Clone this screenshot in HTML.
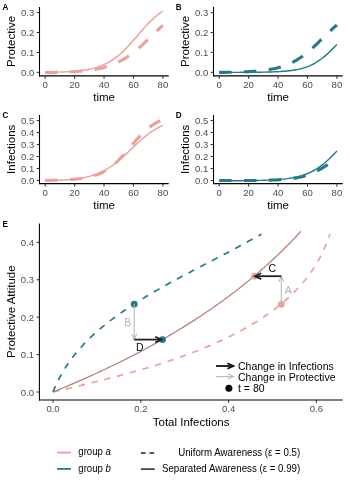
<!DOCTYPE html>
<html><head><meta charset="utf-8"><style>
html,body{margin:0;padding:0;background:#fff;width:350px;height:485px;overflow:hidden;}
svg{will-change:transform;}
body{position:relative;font-family:"Liberation Sans",sans-serif;}
</style></head><body>
<svg width="350" height="485" viewBox="0 0 350 485" style="position:absolute;left:0;top:0;font-family:&quot;Liberation Sans&quot;,sans-serif">
<rect width="350" height="485" fill="#fff"/>
<line x1="39.50" y1="7.00" x2="39.50" y2="76.40" stroke="#000" stroke-width="1.07" />
<line x1="39.00" y1="75.90" x2="168.70" y2="75.90" stroke="#000" stroke-width="1.07" />
<line x1="36.70" y1="72.30" x2="39.50" y2="72.30" stroke="#333333" stroke-width="1.07" />
<text transform="translate(34.20,75.90) scale(0.985,1)" font-size="9.7" fill="#4D4D4D" text-anchor="end" font-weight="normal" >0.0</text>
<line x1="36.70" y1="52.40" x2="39.50" y2="52.40" stroke="#333333" stroke-width="1.07" />
<text transform="translate(34.20,56.00) scale(0.985,1)" font-size="9.7" fill="#4D4D4D" text-anchor="end" font-weight="normal" >0.1</text>
<line x1="36.70" y1="32.50" x2="39.50" y2="32.50" stroke="#333333" stroke-width="1.07" />
<text transform="translate(34.20,36.10) scale(0.985,1)" font-size="9.7" fill="#4D4D4D" text-anchor="end" font-weight="normal" >0.2</text>
<line x1="36.70" y1="12.60" x2="39.50" y2="12.60" stroke="#333333" stroke-width="1.07" />
<text transform="translate(34.20,16.20) scale(0.985,1)" font-size="9.7" fill="#4D4D4D" text-anchor="end" font-weight="normal" >0.3</text>
<line x1="45.20" y1="75.90" x2="45.20" y2="78.70" stroke="#333333" stroke-width="1.07" />
<text transform="translate(45.20,87.80) scale(0.985,1)" font-size="9.7" fill="#4D4D4D" text-anchor="middle" font-weight="normal" >0</text>
<line x1="74.62" y1="75.90" x2="74.62" y2="78.70" stroke="#333333" stroke-width="1.07" />
<text transform="translate(74.62,87.80) scale(0.985,1)" font-size="9.7" fill="#4D4D4D" text-anchor="middle" font-weight="normal" >20</text>
<line x1="104.04" y1="75.90" x2="104.04" y2="78.70" stroke="#333333" stroke-width="1.07" />
<text transform="translate(104.04,87.80) scale(0.985,1)" font-size="9.7" fill="#4D4D4D" text-anchor="middle" font-weight="normal" >40</text>
<line x1="133.46" y1="75.90" x2="133.46" y2="78.70" stroke="#333333" stroke-width="1.07" />
<text transform="translate(133.46,87.80) scale(0.985,1)" font-size="9.7" fill="#4D4D4D" text-anchor="middle" font-weight="normal" >60</text>
<line x1="162.88" y1="75.90" x2="162.88" y2="78.70" stroke="#333333" stroke-width="1.07" />
<text transform="translate(162.88,87.80) scale(0.985,1)" font-size="9.7" fill="#4D4D4D" text-anchor="middle" font-weight="normal" >80</text>
<text x="0.00" y="0.00" font-size="11.5" fill="#000" text-anchor="middle" font-weight="normal" transform="translate(15.2,41.45) rotate(-90)">Protective</text>
<text x="104.10" y="101.20" font-size="11.5" fill="#000" text-anchor="middle" font-weight="normal" >time</text>
<text transform="translate(2.40,9.50) scale(0.87,1)" font-size="9.3" fill="#000" text-anchor="start" font-weight="bold" >A</text>
<path d="M45.2,72.45 L47.2,72.42 L49.2,72.39 L51.2,72.35 L53.2,72.31 L55.2,72.26 L57.2,72.20 L59.2,72.14 L61.2,72.07 L63.2,71.99 L65.1,71.90 L67.1,71.80 L69.1,71.68 L71.1,71.55 L73.1,71.40 L75.1,71.23 L77.1,71.04 L79.1,70.83 L81.1,70.59 L83.1,70.32 L85.1,70.02 L87.1,69.68 L89.1,69.29 L91.1,68.87 L93.1,68.39 L95.1,67.85 L97.1,67.25 L99.1,66.59 L101.1,65.85 L103.1,65.03 L105.0,64.12 L107.0,63.13 L109.0,62.04 L111.0,60.84 L113.0,59.54 L115.0,58.13 L117.0,56.61 L119.0,54.98 L121.0,53.24 L123.0,51.39 L125.0,49.44 L127.0,47.39 L129.0,45.27 L131.0,43.07 L133.0,40.82 L135.0,38.53 L137.0,36.22 L139.0,33.90 L141.0,31.60 L143.0,29.33 L144.9,27.11 L146.9,24.95 L148.9,22.87 L150.9,20.88 L152.9,18.99 L154.9,17.20 L156.9,15.52 L158.9,13.95 L160.9,12.49 L162.9,11.15" fill="none" stroke="#EBA09A" stroke-width="1.45"  transform="translate(0,0)"/>
<path d="M45.2,72.56 L47.2,72.53 L49.2,72.50 L51.2,72.47 L53.2,72.43 L55.2,72.39 L57.2,72.34 L59.2,72.28 L61.2,72.23 L63.2,72.16 L65.1,72.09 L67.1,72.01 L69.1,71.92 L71.1,71.82 L73.1,71.71 L75.1,71.59 L77.1,71.45 L79.1,71.30 L81.1,71.13 L83.1,70.95 L85.1,70.74 L87.1,70.52 L89.1,70.27 L91.1,69.99 L93.1,69.69 L95.1,69.35 L97.1,68.98 L99.1,68.58 L101.1,68.13 L103.1,67.64 L105.0,67.10 L107.0,66.52 L109.0,65.87 L111.0,65.17 L113.0,64.41 L115.0,63.59 L117.0,62.69 L119.0,61.72 L121.0,60.68 L123.0,59.56 L125.0,58.37 L127.0,57.09 L129.0,55.74 L131.0,54.31 L133.0,52.80 L135.0,51.21 L137.0,49.56 L139.0,47.85 L141.0,46.07 L143.0,44.25 L144.9,42.38 L146.9,40.49 L148.9,38.57 L150.9,36.64 L152.9,34.71 L154.9,32.79 L156.9,30.90 L158.9,29.04 L160.9,27.22 L162.9,25.45" fill="none" stroke="#EBA09A" stroke-width="3.1" stroke-dasharray="12.4 12.4" transform="translate(0,0)"/>
<line x1="213.50" y1="7.00" x2="213.50" y2="76.40" stroke="#000" stroke-width="1.07" />
<line x1="213.00" y1="75.90" x2="342.70" y2="75.90" stroke="#000" stroke-width="1.07" />
<line x1="210.70" y1="72.30" x2="213.50" y2="72.30" stroke="#333333" stroke-width="1.07" />
<text transform="translate(208.20,75.90) scale(0.985,1)" font-size="9.7" fill="#4D4D4D" text-anchor="end" font-weight="normal" >0.0</text>
<line x1="210.70" y1="52.40" x2="213.50" y2="52.40" stroke="#333333" stroke-width="1.07" />
<text transform="translate(208.20,56.00) scale(0.985,1)" font-size="9.7" fill="#4D4D4D" text-anchor="end" font-weight="normal" >0.1</text>
<line x1="210.70" y1="32.50" x2="213.50" y2="32.50" stroke="#333333" stroke-width="1.07" />
<text transform="translate(208.20,36.10) scale(0.985,1)" font-size="9.7" fill="#4D4D4D" text-anchor="end" font-weight="normal" >0.2</text>
<line x1="210.70" y1="12.60" x2="213.50" y2="12.60" stroke="#333333" stroke-width="1.07" />
<text transform="translate(208.20,16.20) scale(0.985,1)" font-size="9.7" fill="#4D4D4D" text-anchor="end" font-weight="normal" >0.3</text>
<line x1="219.20" y1="75.90" x2="219.20" y2="78.70" stroke="#333333" stroke-width="1.07" />
<text transform="translate(219.20,87.80) scale(0.985,1)" font-size="9.7" fill="#4D4D4D" text-anchor="middle" font-weight="normal" >0</text>
<line x1="248.62" y1="75.90" x2="248.62" y2="78.70" stroke="#333333" stroke-width="1.07" />
<text transform="translate(248.62,87.80) scale(0.985,1)" font-size="9.7" fill="#4D4D4D" text-anchor="middle" font-weight="normal" >20</text>
<line x1="278.04" y1="75.90" x2="278.04" y2="78.70" stroke="#333333" stroke-width="1.07" />
<text transform="translate(278.04,87.80) scale(0.985,1)" font-size="9.7" fill="#4D4D4D" text-anchor="middle" font-weight="normal" >40</text>
<line x1="307.46" y1="75.90" x2="307.46" y2="78.70" stroke="#333333" stroke-width="1.07" />
<text transform="translate(307.46,87.80) scale(0.985,1)" font-size="9.7" fill="#4D4D4D" text-anchor="middle" font-weight="normal" >60</text>
<line x1="336.88" y1="75.90" x2="336.88" y2="78.70" stroke="#333333" stroke-width="1.07" />
<text transform="translate(336.88,87.80) scale(0.985,1)" font-size="9.7" fill="#4D4D4D" text-anchor="middle" font-weight="normal" >80</text>
<text x="0.00" y="0.00" font-size="11.5" fill="#000" text-anchor="middle" font-weight="normal" transform="translate(189.2,41.45) rotate(-90)">Protective</text>
<text x="278.10" y="101.20" font-size="11.5" fill="#000" text-anchor="middle" font-weight="normal" >time</text>
<text transform="translate(175.80,9.50) scale(0.87,1)" font-size="9.3" fill="#000" text-anchor="start" font-weight="bold" >B</text>
<path d="M45.2,72.38 L47.2,72.38 L49.2,72.38 L51.2,72.37 L53.2,72.37 L55.2,72.37 L57.2,72.37 L59.2,72.36 L61.2,72.36 L63.2,72.35 L65.1,72.35 L67.1,72.34 L69.1,72.33 L71.1,72.32 L73.1,72.31 L75.1,72.30 L77.1,72.29 L79.1,72.27 L81.1,72.25 L83.1,72.23 L85.1,72.20 L87.1,72.18 L89.1,72.14 L91.1,72.10 L93.1,72.06 L95.1,72.01 L97.1,71.95 L99.1,71.88 L101.1,71.80 L103.1,71.71 L105.0,71.60 L107.0,71.48 L109.0,71.34 L111.0,71.18 L113.0,70.99 L115.0,70.78 L117.0,70.54 L119.0,70.26 L121.0,69.93 L123.0,69.57 L125.0,69.15 L127.0,68.68 L129.0,68.14 L131.0,67.53 L133.0,66.84 L135.0,66.06 L137.0,65.19 L139.0,64.23 L141.0,63.16 L143.0,61.97 L144.9,60.68 L146.9,59.26 L148.9,57.74 L150.9,56.10 L152.9,54.36 L154.9,52.52 L156.9,50.61 L158.9,48.63 L160.9,46.60 L162.9,44.55" fill="none" stroke="#29788A" stroke-width="1.45"  transform="translate(174,0)"/>
<path d="M45.2,72.40 L47.2,72.38 L49.2,72.36 L51.2,72.33 L53.2,72.30 L55.2,72.27 L57.2,72.23 L59.2,72.19 L61.2,72.14 L63.2,72.09 L65.1,72.03 L67.1,71.96 L69.1,71.89 L71.1,71.80 L73.1,71.71 L75.1,71.60 L77.1,71.48 L79.1,71.35 L81.1,71.21 L83.1,71.04 L85.1,70.86 L87.1,70.66 L89.1,70.43 L91.1,70.17 L93.1,69.89 L95.1,69.58 L97.1,69.23 L99.1,68.85 L101.1,68.42 L103.1,67.94 L105.0,67.42 L107.0,66.84 L109.0,66.21 L111.0,65.51 L113.0,64.75 L115.0,63.92 L117.0,63.01 L119.0,62.02 L121.0,60.95 L123.0,59.80 L125.0,58.56 L127.0,57.23 L129.0,55.82 L131.0,54.32 L133.0,52.75 L135.0,51.09 L137.0,49.36 L139.0,47.57 L141.0,45.72 L143.0,43.82 L144.9,41.89 L146.9,39.94 L148.9,37.98 L150.9,36.02 L152.9,34.08 L154.9,32.17 L156.9,30.30 L158.9,28.47 L160.9,26.71 L162.9,25.02" fill="none" stroke="#29788A" stroke-width="3.1" stroke-dasharray="12.4 12.4" transform="translate(174,0)"/>
<line x1="39.50" y1="115.00" x2="39.50" y2="184.10" stroke="#000" stroke-width="1.07" />
<line x1="39.00" y1="183.60" x2="168.70" y2="183.60" stroke="#000" stroke-width="1.07" />
<line x1="36.70" y1="180.50" x2="39.50" y2="180.50" stroke="#333333" stroke-width="1.07" />
<text transform="translate(34.20,184.10) scale(0.985,1)" font-size="9.7" fill="#4D4D4D" text-anchor="end" font-weight="normal" >0.0</text>
<line x1="36.70" y1="168.50" x2="39.50" y2="168.50" stroke="#333333" stroke-width="1.07" />
<text transform="translate(34.20,172.10) scale(0.985,1)" font-size="9.7" fill="#4D4D4D" text-anchor="end" font-weight="normal" >0.1</text>
<line x1="36.70" y1="156.50" x2="39.50" y2="156.50" stroke="#333333" stroke-width="1.07" />
<text transform="translate(34.20,160.10) scale(0.985,1)" font-size="9.7" fill="#4D4D4D" text-anchor="end" font-weight="normal" >0.2</text>
<line x1="36.70" y1="144.50" x2="39.50" y2="144.50" stroke="#333333" stroke-width="1.07" />
<text transform="translate(34.20,148.10) scale(0.985,1)" font-size="9.7" fill="#4D4D4D" text-anchor="end" font-weight="normal" >0.3</text>
<line x1="36.70" y1="132.50" x2="39.50" y2="132.50" stroke="#333333" stroke-width="1.07" />
<text transform="translate(34.20,136.10) scale(0.985,1)" font-size="9.7" fill="#4D4D4D" text-anchor="end" font-weight="normal" >0.4</text>
<line x1="36.70" y1="120.50" x2="39.50" y2="120.50" stroke="#333333" stroke-width="1.07" />
<text transform="translate(34.20,124.10) scale(0.985,1)" font-size="9.7" fill="#4D4D4D" text-anchor="end" font-weight="normal" >0.5</text>
<line x1="45.20" y1="183.60" x2="45.20" y2="186.40" stroke="#333333" stroke-width="1.07" />
<text transform="translate(45.20,195.50) scale(0.985,1)" font-size="9.7" fill="#4D4D4D" text-anchor="middle" font-weight="normal" >0</text>
<line x1="74.62" y1="183.60" x2="74.62" y2="186.40" stroke="#333333" stroke-width="1.07" />
<text transform="translate(74.62,195.50) scale(0.985,1)" font-size="9.7" fill="#4D4D4D" text-anchor="middle" font-weight="normal" >20</text>
<line x1="104.04" y1="183.60" x2="104.04" y2="186.40" stroke="#333333" stroke-width="1.07" />
<text transform="translate(104.04,195.50) scale(0.985,1)" font-size="9.7" fill="#4D4D4D" text-anchor="middle" font-weight="normal" >40</text>
<line x1="133.46" y1="183.60" x2="133.46" y2="186.40" stroke="#333333" stroke-width="1.07" />
<text transform="translate(133.46,195.50) scale(0.985,1)" font-size="9.7" fill="#4D4D4D" text-anchor="middle" font-weight="normal" >60</text>
<line x1="162.88" y1="183.60" x2="162.88" y2="186.40" stroke="#333333" stroke-width="1.07" />
<text transform="translate(162.88,195.50) scale(0.985,1)" font-size="9.7" fill="#4D4D4D" text-anchor="middle" font-weight="normal" >80</text>
<text x="0.00" y="0.00" font-size="11.5" fill="#000" text-anchor="middle" font-weight="normal" transform="translate(15.2,149.3) rotate(-90)">Infections</text>
<text x="104.10" y="208.90" font-size="11.5" fill="#000" text-anchor="middle" font-weight="normal" >time</text>
<text transform="translate(2.40,118.00) scale(0.87,1)" font-size="9.3" fill="#000" text-anchor="start" font-weight="bold" >C</text>
<path d="M45.2,72.78 L47.2,72.73 L49.2,72.68 L51.2,72.62 L53.2,72.56 L55.2,72.48 L57.2,72.40 L59.2,72.31 L61.2,72.20 L63.2,72.08 L65.1,71.95 L67.1,71.81 L69.1,71.64 L71.1,71.45 L73.1,71.24 L75.1,71.01 L77.1,70.75 L79.1,70.46 L81.1,70.13 L83.1,69.77 L85.1,69.37 L87.1,68.92 L89.1,68.42 L91.1,67.87 L93.1,67.26 L95.1,66.58 L97.1,65.84 L99.1,65.03 L101.1,64.14 L103.1,63.18 L105.0,62.12 L107.0,60.99 L109.0,59.76 L111.0,58.45 L113.0,57.05 L115.0,55.56 L117.0,53.99 L119.0,52.34 L121.0,50.62 L123.0,48.84 L125.0,47.01 L127.0,45.14 L129.0,43.24 L131.0,41.32 L133.0,39.41 L135.0,37.50 L137.0,35.62 L139.0,33.78 L141.0,31.99 L143.0,30.26 L144.9,28.60 L146.9,27.02 L148.9,25.52 L150.9,24.10 L152.9,22.77 L154.9,21.53 L156.9,20.38 L158.9,19.31 L160.9,18.33 L162.9,17.43" fill="none" stroke="#EBA09A" stroke-width="1.45"  transform="translate(0,108)"/>
<path d="M45.2,72.33 L47.2,72.31 L49.2,72.28 L51.2,72.25 L53.2,72.21 L55.2,72.17 L57.2,72.12 L59.2,72.06 L61.2,72.00 L63.2,71.93 L65.1,71.84 L67.1,71.74 L69.1,71.63 L71.1,71.50 L73.1,71.35 L75.1,71.18 L77.1,70.98 L79.1,70.76 L81.1,70.50 L83.1,70.21 L85.1,69.88 L87.1,69.50 L89.1,69.07 L91.1,68.58 L93.1,68.02 L95.1,67.40 L97.1,66.69 L99.1,65.90 L101.1,65.01 L103.1,64.01 L105.0,62.91 L107.0,61.69 L109.0,60.35 L111.0,58.88 L113.0,57.28 L115.0,55.56 L117.0,53.71 L119.0,51.74 L121.0,49.66 L123.0,47.49 L125.0,45.24 L127.0,42.94 L129.0,40.59 L131.0,38.23 L133.0,35.87 L135.0,33.55 L137.0,31.28 L139.0,29.09 L141.0,26.98 L143.0,24.98 L144.9,23.10 L146.9,21.34 L148.9,19.70 L150.9,18.20 L152.9,16.82 L154.9,15.56 L156.9,14.42 L158.9,13.40 L160.9,12.48 L162.9,11.66" fill="none" stroke="#EBA09A" stroke-width="3.1" stroke-dasharray="12.4 12.4" transform="translate(0,108)"/>
<line x1="213.50" y1="115.00" x2="213.50" y2="184.10" stroke="#000" stroke-width="1.07" />
<line x1="213.00" y1="183.60" x2="342.70" y2="183.60" stroke="#000" stroke-width="1.07" />
<line x1="210.70" y1="180.50" x2="213.50" y2="180.50" stroke="#333333" stroke-width="1.07" />
<text transform="translate(208.20,184.10) scale(0.985,1)" font-size="9.7" fill="#4D4D4D" text-anchor="end" font-weight="normal" >0.0</text>
<line x1="210.70" y1="168.50" x2="213.50" y2="168.50" stroke="#333333" stroke-width="1.07" />
<text transform="translate(208.20,172.10) scale(0.985,1)" font-size="9.7" fill="#4D4D4D" text-anchor="end" font-weight="normal" >0.1</text>
<line x1="210.70" y1="156.50" x2="213.50" y2="156.50" stroke="#333333" stroke-width="1.07" />
<text transform="translate(208.20,160.10) scale(0.985,1)" font-size="9.7" fill="#4D4D4D" text-anchor="end" font-weight="normal" >0.2</text>
<line x1="210.70" y1="144.50" x2="213.50" y2="144.50" stroke="#333333" stroke-width="1.07" />
<text transform="translate(208.20,148.10) scale(0.985,1)" font-size="9.7" fill="#4D4D4D" text-anchor="end" font-weight="normal" >0.3</text>
<line x1="210.70" y1="132.50" x2="213.50" y2="132.50" stroke="#333333" stroke-width="1.07" />
<text transform="translate(208.20,136.10) scale(0.985,1)" font-size="9.7" fill="#4D4D4D" text-anchor="end" font-weight="normal" >0.4</text>
<line x1="210.70" y1="120.50" x2="213.50" y2="120.50" stroke="#333333" stroke-width="1.07" />
<text transform="translate(208.20,124.10) scale(0.985,1)" font-size="9.7" fill="#4D4D4D" text-anchor="end" font-weight="normal" >0.5</text>
<line x1="219.20" y1="183.60" x2="219.20" y2="186.40" stroke="#333333" stroke-width="1.07" />
<text transform="translate(219.20,195.50) scale(0.985,1)" font-size="9.7" fill="#4D4D4D" text-anchor="middle" font-weight="normal" >0</text>
<line x1="248.62" y1="183.60" x2="248.62" y2="186.40" stroke="#333333" stroke-width="1.07" />
<text transform="translate(248.62,195.50) scale(0.985,1)" font-size="9.7" fill="#4D4D4D" text-anchor="middle" font-weight="normal" >20</text>
<line x1="278.04" y1="183.60" x2="278.04" y2="186.40" stroke="#333333" stroke-width="1.07" />
<text transform="translate(278.04,195.50) scale(0.985,1)" font-size="9.7" fill="#4D4D4D" text-anchor="middle" font-weight="normal" >40</text>
<line x1="307.46" y1="183.60" x2="307.46" y2="186.40" stroke="#333333" stroke-width="1.07" />
<text transform="translate(307.46,195.50) scale(0.985,1)" font-size="9.7" fill="#4D4D4D" text-anchor="middle" font-weight="normal" >60</text>
<line x1="336.88" y1="183.60" x2="336.88" y2="186.40" stroke="#333333" stroke-width="1.07" />
<text transform="translate(336.88,195.50) scale(0.985,1)" font-size="9.7" fill="#4D4D4D" text-anchor="middle" font-weight="normal" >80</text>
<text x="0.00" y="0.00" font-size="11.5" fill="#000" text-anchor="middle" font-weight="normal" transform="translate(189.2,149.3) rotate(-90)">Infections</text>
<text x="278.10" y="208.90" font-size="11.5" fill="#000" text-anchor="middle" font-weight="normal" >time</text>
<text transform="translate(175.80,118.00) scale(0.87,1)" font-size="9.3" fill="#000" text-anchor="start" font-weight="bold" >D</text>
<path d="M45.2,72.74 L47.2,72.74 L49.2,72.73 L51.2,72.73 L53.2,72.72 L55.2,72.71 L57.2,72.71 L59.2,72.70 L61.2,72.69 L63.2,72.68 L65.1,72.66 L67.1,72.65 L69.1,72.63 L71.1,72.61 L73.1,72.59 L75.1,72.57 L77.1,72.54 L79.1,72.51 L81.1,72.48 L83.1,72.44 L85.1,72.40 L87.1,72.35 L89.1,72.29 L91.1,72.23 L93.1,72.15 L95.1,72.07 L97.1,71.98 L99.1,71.87 L101.1,71.75 L103.1,71.62 L105.0,71.47 L107.0,71.30 L109.0,71.10 L111.0,70.88 L113.0,70.64 L115.0,70.36 L117.0,70.05 L119.0,69.70 L121.0,69.30 L123.0,68.86 L125.0,68.37 L127.0,67.82 L129.0,67.21 L131.0,66.53 L133.0,65.77 L135.0,64.93 L137.0,64.01 L139.0,63.00 L141.0,61.89 L143.0,60.68 L144.9,59.36 L146.9,57.94 L148.9,56.42 L150.9,54.79 L152.9,53.05 L154.9,51.23 L156.9,49.31 L158.9,47.31 L160.9,45.24 L162.9,43.12" fill="none" stroke="#29788A" stroke-width="1.45"  transform="translate(174,108)"/>
<path d="M45.2,72.56 L47.2,72.56 L49.2,72.56 L51.2,72.55 L53.2,72.55 L55.2,72.55 L57.2,72.55 L59.2,72.54 L61.2,72.54 L63.2,72.53 L65.1,72.53 L67.1,72.52 L69.1,72.51 L71.1,72.50 L73.1,72.49 L75.1,72.48 L77.1,72.46 L79.1,72.45 L81.1,72.43 L83.1,72.40 L85.1,72.38 L87.1,72.35 L89.1,72.31 L91.1,72.27 L93.1,72.23 L95.1,72.18 L97.1,72.11 L99.1,72.04 L101.1,71.96 L103.1,71.87 L105.0,71.76 L107.0,71.64 L109.0,71.50 L111.0,71.34 L113.0,71.15 L115.0,70.94 L117.0,70.70 L119.0,70.42 L121.0,70.11 L123.0,69.76 L125.0,69.35 L127.0,68.90 L129.0,68.40 L131.0,67.83 L133.0,67.20 L135.0,66.50 L137.0,65.73 L139.0,64.89 L141.0,63.97 L143.0,62.98 L144.9,61.92 L146.9,60.80 L148.9,59.61 L150.9,58.37 L152.9,57.10 L154.9,55.79 L156.9,54.47 L158.9,53.15 L160.9,51.84 L162.9,50.56" fill="none" stroke="#29788A" stroke-width="3.1" stroke-dasharray="12.4 12.4" transform="translate(174,108)"/>
<line x1="39.40" y1="223.40" x2="39.40" y2="400.50" stroke="#000" stroke-width="1.07" />
<line x1="38.90" y1="400.00" x2="342.80" y2="400.00" stroke="#000" stroke-width="1.07" />
<line x1="36.60" y1="392.00" x2="39.40" y2="392.00" stroke="#333333" stroke-width="1.07" />
<text transform="translate(34.10,395.60) scale(0.985,1)" font-size="9.7" fill="#4D4D4D" text-anchor="end" font-weight="normal" >0.0</text>
<line x1="36.60" y1="354.57" x2="39.40" y2="354.57" stroke="#333333" stroke-width="1.07" />
<text transform="translate(34.10,358.18) scale(0.985,1)" font-size="9.7" fill="#4D4D4D" text-anchor="end" font-weight="normal" >0.1</text>
<line x1="36.60" y1="317.15" x2="39.40" y2="317.15" stroke="#333333" stroke-width="1.07" />
<text transform="translate(34.10,320.75) scale(0.985,1)" font-size="9.7" fill="#4D4D4D" text-anchor="end" font-weight="normal" >0.2</text>
<line x1="36.60" y1="279.73" x2="39.40" y2="279.73" stroke="#333333" stroke-width="1.07" />
<text transform="translate(34.10,283.33) scale(0.985,1)" font-size="9.7" fill="#4D4D4D" text-anchor="end" font-weight="normal" >0.3</text>
<line x1="36.60" y1="242.30" x2="39.40" y2="242.30" stroke="#333333" stroke-width="1.07" />
<text transform="translate(34.10,245.90) scale(0.985,1)" font-size="9.7" fill="#4D4D4D" text-anchor="end" font-weight="normal" >0.4</text>
<line x1="53.00" y1="400.00" x2="53.00" y2="402.80" stroke="#333333" stroke-width="1.07" />
<text transform="translate(53.00,412.20) scale(0.985,1)" font-size="9.7" fill="#4D4D4D" text-anchor="middle" font-weight="normal" >0.0</text>
<line x1="140.80" y1="400.00" x2="140.80" y2="402.80" stroke="#333333" stroke-width="1.07" />
<text transform="translate(140.80,412.20) scale(0.985,1)" font-size="9.7" fill="#4D4D4D" text-anchor="middle" font-weight="normal" >0.2</text>
<line x1="228.60" y1="400.00" x2="228.60" y2="402.80" stroke="#333333" stroke-width="1.07" />
<text transform="translate(228.60,412.20) scale(0.985,1)" font-size="9.7" fill="#4D4D4D" text-anchor="middle" font-weight="normal" >0.4</text>
<line x1="316.40" y1="400.00" x2="316.40" y2="402.80" stroke="#333333" stroke-width="1.07" />
<text transform="translate(316.40,412.20) scale(0.985,1)" font-size="9.7" fill="#4D4D4D" text-anchor="middle" font-weight="normal" >0.6</text>
<text x="0.00" y="0.00" font-size="11.5" fill="#000" text-anchor="middle" font-weight="normal" transform="translate(15.2,311.70) rotate(-90)">Protective Attitude</text>
<text x="191.10" y="425.60" font-size="11.5" fill="#000" text-anchor="middle" font-weight="normal" >Total Infections</text>
<text transform="translate(2.40,226.90) scale(0.87,1)" font-size="9.3" fill="#000" text-anchor="start" font-weight="bold" >E</text>
<path d="M53.0,392.0 L55.0,391.5 L57.0,391.0 L59.0,390.6 L61.0,390.1 L63.1,389.6 L65.1,389.1 L67.1,388.7 L69.1,388.2 L71.1,387.7 L73.1,387.2 L75.2,386.7 L77.2,386.2 L79.2,385.8 L81.2,385.3 L83.3,384.8 L85.3,384.3 L87.3,383.8 L89.4,383.3 L91.4,382.8 L93.4,382.3 L95.4,381.8 L97.5,381.3 L99.5,380.8 L101.5,380.3 L103.6,379.8 L105.6,379.3 L107.6,378.7 L109.7,378.2 L111.7,377.7 L113.7,377.2 L115.8,376.6 L117.8,376.1 L119.8,375.6 L121.9,375.0 L123.9,374.5 L125.9,373.9 L128.0,373.4 L130.0,372.8 L132.0,372.2 L134.0,371.7 L136.1,371.1 L138.1,370.5 L140.1,369.9 L142.1,369.4 L144.2,368.8 L146.2,368.2 L148.2,367.6 L150.2,367.0 L152.2,366.3 L154.2,365.7 L156.3,365.1 L158.3,364.5 L160.3,363.8 L162.3,363.2 L164.3,362.5 L166.3,361.9 L168.3,361.2 L170.3,360.5 L172.3,359.9 L174.3,359.2 L176.3,358.5 L178.3,357.8 L180.3,357.1 L182.2,356.4 L184.2,355.7 L186.2,354.9 L188.2,354.2 L190.2,353.5 L192.1,352.7 L194.1,352.0 L196.1,351.2 L198.0,350.4 L200.0,349.6 L201.9,348.9 L203.9,348.1 L205.8,347.2 L207.8,346.4 L209.7,345.6 L211.7,344.8 L213.6,343.9 L215.5,343.1 L217.4,342.2 L219.4,341.3 L221.3,340.5 L223.2,339.6 L225.1,338.7 L227.0,337.8 L228.9,336.8 L230.8,335.9 L232.7,335.0 L234.6,334.0 L236.4,333.0 L238.3,332.1 L240.2,331.1 L242.0,330.1 L243.9,329.1 L245.7,328.0 L247.5,327.0 L249.3,326.0 L251.1,324.9 L252.9,323.8 L254.7,322.8 L256.5,321.7 L258.3,320.5 L260.0,319.4 L261.8,318.3 L263.5,317.1 L265.2,316.0 L267.0,314.8 L268.7,313.6 L270.3,312.4 L272.0,311.2 L273.7,309.9 L275.3,308.7 L277.0,307.4 L278.6,306.1 L280.2,304.8 L281.8,303.5 L283.3,302.2 L284.9,300.9 L286.4,299.5 L288.0,298.1 L289.5,296.7 L291.0,295.3 L292.4,293.9 L293.9,292.4 L295.3,291.0 L296.7,289.5 L298.1,288.0 L299.5,286.5 L300.9,285.0 L302.2,283.4 L303.6,281.9 L304.9,280.3 L306.1,278.7 L307.4,277.0 L308.6,275.4 L309.9,273.7 L311.1,272.1 L312.2,270.4 L313.4,268.6 L314.5,266.9 L315.6,265.1 L316.7,263.4 L317.7,261.6 L318.8,259.7 L319.8,257.9 L320.8,256.0 L321.7,254.2 L322.7,252.3 L323.6,250.3 L324.4,248.4 L325.3,246.4 L326.1,244.4 L326.9,242.4 L327.7,240.4 L328.4,238.3 L329.2,236.2 L329.9,234.1" fill="none" stroke="#EBA09A" stroke-width="1.7" stroke-dasharray="6.4 6.78"/>
<path d="M53.0,392.0 L54.7,391.3 L56.5,390.6 L58.2,389.9 L59.9,389.2 L61.6,388.5 L63.4,387.7 L65.1,387.0 L66.8,386.3 L68.5,385.6 L70.2,384.8 L72.0,384.1 L73.7,383.4 L75.4,382.6 L77.1,381.9 L78.8,381.1 L80.6,380.4 L82.3,379.6 L84.0,378.9 L85.7,378.1 L87.4,377.4 L89.1,376.6 L90.8,375.8 L92.5,375.1 L94.2,374.3 L95.9,373.5 L97.7,372.7 L99.4,371.9 L101.1,371.1 L102.8,370.3 L104.5,369.5 L106.2,368.7 L107.8,367.9 L109.5,367.1 L111.2,366.3 L112.9,365.5 L114.6,364.7 L116.3,363.9 L118.0,363.0 L119.7,362.2 L121.4,361.4 L123.0,360.6 L124.7,359.7 L126.4,358.9 L128.1,358.0 L129.7,357.2 L131.4,356.3 L133.1,355.5 L134.7,354.6 L136.4,353.7 L138.1,352.9 L139.7,352.0 L141.4,351.1 L143.1,350.2 L144.7,349.3 L146.4,348.5 L148.0,347.6 L149.7,346.7 L151.3,345.8 L153.0,344.9 L154.6,343.9 L156.2,343.0 L157.9,342.1 L159.5,341.2 L161.1,340.3 L162.8,339.3 L164.4,338.4 L166.0,337.5 L167.6,336.5 L169.3,335.6 L170.9,334.6 L172.5,333.7 L174.1,332.7 L175.7,331.8 L177.3,330.8 L178.9,329.8 L180.5,328.8 L182.1,327.9 L183.7,326.9 L185.3,325.9 L186.9,324.9 L188.5,323.9 L190.1,322.9 L191.7,321.9 L193.2,320.9 L194.8,319.9 L196.4,318.8 L198.0,317.8 L199.5,316.8 L201.1,315.8 L202.6,314.7 L204.2,313.7 L205.7,312.6 L207.3,311.6 L208.8,310.5 L210.4,309.5 L211.9,308.4 L213.5,307.3 L215.0,306.3 L216.5,305.2 L218.1,304.1 L219.6,303.0 L221.1,301.9 L222.6,300.8 L224.1,299.7 L225.6,298.6 L227.1,297.5 L228.6,296.4 L230.1,295.2 L231.6,294.1 L233.1,293.0 L234.6,291.9 L236.1,290.7 L237.6,289.6 L239.0,288.4 L240.5,287.3 L242.0,286.1 L243.4,284.9 L244.9,283.8 L246.3,282.6 L247.8,281.4 L249.2,280.2 L250.7,279.0 L252.1,277.8 L253.6,276.6 L255.0,275.4 L256.4,274.2 L257.8,273.0 L259.3,271.8 L260.7,270.5 L262.1,269.3 L263.5,268.1 L264.9,266.8 L266.3,265.6 L267.7,264.3 L269.0,263.1 L270.4,261.8 L271.8,260.5 L273.2,259.2 L274.5,258.0 L275.9,256.7 L277.3,255.4 L278.6,254.1 L280.0,252.8 L281.3,251.5 L282.7,250.2 L284.0,248.8 L285.3,247.5 L286.6,246.2 L288.0,244.9 L289.3,243.5 L290.6,242.2 L291.9,240.8 L293.2,239.5 L294.5,238.1 L295.8,236.7 L297.1,235.3 L298.4,234.0 L299.6,232.6 L300.9,231.2" fill="none" stroke="#B97F72" stroke-width="1.25"/>
<path d="M53.0,392.0 L53.6,390.4 L54.3,388.8 L55.0,387.2 L55.7,385.6 L56.4,384.1 L57.1,382.6 L57.8,381.0 L58.6,379.5 L59.4,378.0 L60.2,376.5 L61.0,375.1 L61.8,373.6 L62.6,372.1 L63.5,370.7 L64.4,369.3 L65.3,367.9 L66.2,366.5 L67.1,365.1 L68.0,363.7 L69.0,362.4 L69.9,361.0 L70.9,359.7 L71.9,358.3 L72.9,357.0 L73.9,355.7 L74.9,354.4 L76.0,353.1 L77.0,351.9 L78.1,350.6 L79.2,349.3 L80.3,348.1 L81.4,346.9 L82.5,345.7 L83.6,344.4 L84.7,343.2 L85.9,342.1 L87.1,340.9 L88.2,339.7 L89.4,338.5 L90.6,337.4 L91.8,336.2 L93.0,335.1 L94.2,334.0 L95.5,332.9 L96.7,331.8 L98.0,330.7 L99.2,329.6 L100.5,328.5 L101.8,327.4 L103.1,326.3 L104.4,325.3 L105.7,324.2 L107.0,323.2 L108.3,322.2 L109.6,321.1 L110.9,320.1 L112.3,319.1 L113.6,318.1 L115.0,317.1 L116.3,316.1 L117.7,315.1 L119.1,314.1 L120.5,313.2 L121.9,312.2 L123.2,311.2 L124.6,310.3 L126.0,309.3 L127.4,308.4 L128.9,307.5 L130.3,306.5 L131.7,305.6 L133.1,304.7 L134.5,303.8 L136.0,302.9 L137.4,302.0 L138.8,301.1 L140.3,300.2 L141.7,299.3 L143.2,298.4 L144.6,297.5 L146.1,296.6 L147.5,295.8 L149.0,294.9 L150.4,294.0 L151.9,293.2 L153.4,292.3 L154.8,291.5 L156.3,290.6 L157.8,289.8 L159.3,288.9 L160.7,288.1 L162.2,287.2 L163.7,286.4 L165.2,285.6 L166.6,284.8 L168.1,283.9 L169.6,283.1 L171.1,282.3 L172.6,281.5 L174.1,280.7 L175.6,279.9 L177.0,279.1 L178.5,278.2 L180.0,277.4 L181.5,276.6 L183.0,275.8 L184.5,275.0 L186.0,274.3 L187.5,273.5 L189.0,272.7 L190.5,271.9 L192.0,271.1 L193.5,270.3 L195.0,269.5 L196.5,268.7 L198.0,267.9 L199.5,267.2 L201.0,266.4 L202.5,265.6 L204.0,264.8 L205.5,264.0 L206.9,263.3 L208.4,262.5 L209.9,261.7 L211.4,260.9 L212.9,260.2 L214.4,259.4 L215.9,258.6 L217.4,257.8 L218.9,257.0 L220.4,256.3 L221.9,255.5 L223.4,254.7 L224.8,253.9 L226.3,253.2 L227.8,252.4 L229.3,251.6 L230.8,250.8 L232.3,250.0 L233.7,249.2 L235.2,248.5 L236.7,247.7 L238.2,246.9 L239.6,246.1 L241.1,245.3 L242.6,244.5 L244.0,243.7 L245.5,242.9 L247.0,242.1 L248.4,241.3 L249.9,240.5 L251.3,239.7 L252.8,238.9 L254.2,238.1 L255.7,237.3 L257.1,236.5 L258.5,235.7 L260.0,234.9 L261.4,234.0" fill="none" stroke="#29788A" stroke-width="1.7" stroke-dasharray="6.4 6.78"/>
<circle cx="281.3" cy="304.3" r="3.4" fill="#EBA09A"/>
<circle cx="254.5" cy="276.2" r="3.4" fill="#EBA09A"/>
<circle cx="134.2" cy="304.2" r="3.4" fill="#29788A"/>
<circle cx="162.5" cy="339.6" r="3.4" fill="#29788A"/>
<line x1="281.30" y1="304.30" x2="281.30" y2="276.20" stroke="#B8B8B8" stroke-width="1.07" />
<polyline points="283.80,281.70 281.30,276.20 278.80,281.70" fill="none" stroke="#B8B8B8" stroke-width="1.07" stroke-linejoin="miter"/>
<line x1="281.30" y1="276.20" x2="255.00" y2="276.20" stroke="#222" stroke-width="1.8" />
<polyline points="261.20,273.30 255.00,276.20 261.20,279.10" fill="none" stroke="#222" stroke-width="1.8" stroke-linejoin="miter"/>
<line x1="134.20" y1="304.20" x2="134.20" y2="339.40" stroke="#B8B8B8" stroke-width="1.07" />
<polyline points="131.70,333.90 134.20,339.40 136.70,333.90" fill="none" stroke="#B8B8B8" stroke-width="1.07" stroke-linejoin="miter"/>
<line x1="134.20" y1="339.60" x2="161.40" y2="339.60" stroke="#222" stroke-width="1.8" />
<polyline points="155.20,342.50 161.40,339.60 155.20,336.70" fill="none" stroke="#222" stroke-width="1.8" stroke-linejoin="miter"/>
<text x="288.20" y="294.00" font-size="10.5" fill="#B3B3B3" text-anchor="middle" font-weight="normal" >A</text>
<text x="272.40" y="272.10" font-size="10.5" fill="#000" text-anchor="middle" font-weight="normal" >C</text>
<text x="127.80" y="326.20" font-size="10.5" fill="#B3B3B3" text-anchor="middle" font-weight="normal" >B</text>
<text x="139.70" y="350.90" font-size="10.5" fill="#000" text-anchor="middle" font-weight="normal" >D</text>
<line x1="216.00" y1="366.00" x2="233.40" y2="366.00" stroke="#111" stroke-width="1.8" />
<polyline points="227.40,368.80 233.40,366.00 227.40,363.20" fill="none" stroke="#111" stroke-width="1.8" stroke-linejoin="miter"/>
<line x1="216.00" y1="376.60" x2="233.40" y2="376.60" stroke="#B8B8B8" stroke-width="1.07" />
<polyline points="227.90,379.10 233.40,376.60 227.90,374.10" fill="none" stroke="#B8B8B8" stroke-width="1.07" stroke-linejoin="miter"/>
<circle cx="228.9" cy="388.3" r="3.5" fill="#000"/>
<text x="238.00" y="369.60" font-size="10.5" fill="#000" text-anchor="start" font-weight="normal" >Change in Infections</text>
<text x="238.00" y="380.90" font-size="10.5" fill="#000" text-anchor="start" font-weight="normal" >Change in Protective</text>
<text x="238.00" y="392.30" font-size="10.5" fill="#000" text-anchor="start" font-weight="normal" >t = 80</text>
<line x1="57.10" y1="452.60" x2="70.90" y2="452.60" stroke="#EBA09A" stroke-width="1.8" />
<line x1="57.10" y1="468.90" x2="70.90" y2="468.90" stroke="#29788A" stroke-width="1.8" />
<text transform="translate(78.30,455.20) scale(0.92,1)" font-size="10.45" fill="#000" text-anchor="start" font-weight="normal" >group <tspan font-style="italic">a</tspan></text>
<text transform="translate(78.30,471.50) scale(0.92,1)" font-size="10.45" fill="#000" text-anchor="start" font-weight="normal" >group <tspan font-style="italic">b</tspan></text>
<line x1="141.00" y1="453.10" x2="154.70" y2="453.10" stroke="#222" stroke-width="1.5" stroke-dasharray="4.6 4"/>
<line x1="141.00" y1="469.10" x2="154.70" y2="469.10" stroke="#222" stroke-width="1.5" />
<text transform="translate(300.20,455.70) scale(0.925,1)" font-size="10.5" fill="#000" text-anchor="end" font-weight="normal" >Uniform Awareness (ε = 0.5)</text>
<text transform="translate(300.20,472.20) scale(0.925,1)" font-size="10.5" fill="#000" text-anchor="end" font-weight="normal" >Separated Awareness (ε = 0.99)</text>
</svg>
</body></html>
